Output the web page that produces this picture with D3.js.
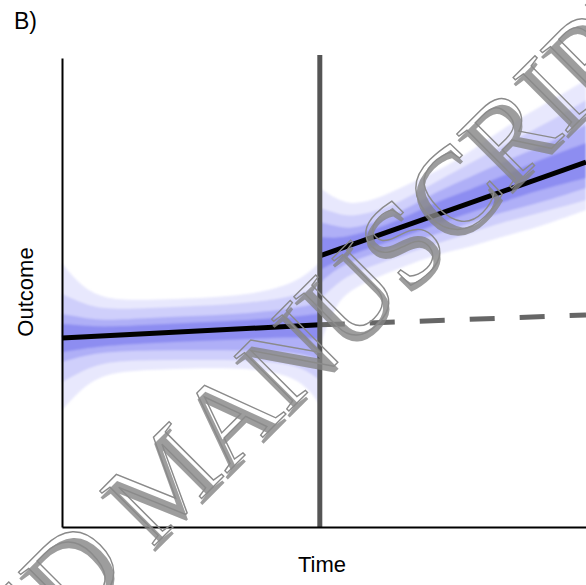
<!DOCTYPE html>
<meta charset="utf-8">
<title>Interrupted time series</title>
<style>

body {
  margin: 0px;
  background: #fff;
}

svg {
  display: block;
  font-family: "Liberation Sans", Arial, sans-serif;
}

.axis path {
  stroke: #000;
  stroke-width: 2px;
}

.watermark {
  font-family: "Liberation Serif", "Times New Roman", serif;
  font-size: 118px;
}

</style>

<script src="https://d3js.org/d3.v7.min.js"></script>

<body>
<script>

var width = 586, height = 585;

// time runs 0..100, intervention at 49.2
var intervention = 49.2;

// fitted lines (time, outcome)
var preLine = [[0, 4.03], [49.2, 4.31]];
var postLine = [[49.2, 5.78], [100, 7.78]];
var counterfactual = [[49.2, 4.31], [100, 4.52]];

// uncertainty bands, before the intervention
var timePre = [0, 2.5, 7.3, 16.8, 26.3, 35.9, 43.5, 47.3, 49.2];
var pre95hi = [5.63, 5.27, 4.84, 4.84, 4.88, 4.95, 5.16, 5.44, 5.65];
var pre95lo = [2.49, 2.81, 3.28, 3.35, 3.39, 3.39, 3.24, 2.92, 2.60];
var pre80hi = [4.97, 4.84, 4.63, 4.67, 4.71, 4.78, 4.90, 5.05, 5.16];
var pre80lo = [3.09, 3.24, 3.52, 3.56, 3.56, 3.56, 3.48, 3.30, 3.13];
var pre60hi = [4.54, 4.50, 4.39, 4.46, 4.50, 4.56, 4.65, 4.73, 4.80];
var pre60lo = [3.52, 3.60, 3.73, 3.77, 3.77, 3.77, 3.73, 3.65, 3.56];
var pre40hi = [4.33, 4.31, 4.26, 4.31, 4.37, 4.41, 4.48, 4.52, 4.56];
var pre40lo = [3.73, 3.77, 3.86, 3.92, 3.97, 4.01, 4.05, 4.03, 3.99];

// uncertainty bands, after the intervention
var timePost = [49.2, 52.1, 55.0, 59.7, 64.5, 72.1, 77.9, 83.6, 91.2, 100];
var post95hi = [7.23, 7.01, 6.87, 6.97, 7.23, 7.61, 8.00, 8.46, 8.96, 9.53];
var post95lo = [3.88, 4.73, 5.05, 5.31, 5.52, 5.84, 5.97, 6.18, 6.40, 6.76];
var post80hi = [6.80, 6.70, 6.61, 6.72, 6.93, 7.40, 7.76, 8.10, 8.53, 9.10];
var post80lo = [4.84, 5.16, 5.39, 5.59, 5.78, 6.06, 6.27, 6.48, 6.70, 6.97];
var post60hi = [6.50, 6.42, 6.35, 6.50, 6.70, 7.19, 7.46, 7.76, 8.10, 8.57];
var post60lo = [5.20, 5.48, 5.65, 5.84, 5.99, 6.27, 6.48, 6.70, 6.91, 7.23];
var post40hi = [6.18, 6.16, 6.20, 6.35, 6.55, 6.97, 7.19, 7.46, 7.83, 8.19];
var post40lo = [5.48, 5.65, 5.80, 5.99, 6.16, 6.48, 6.70, 6.91, 7.19, 7.44];

var bandColors = ["#e8e8fd", "#cfcffb", "#afaff7", "#8d8df1"];

var svg = d3.select("body").append("svg")
    .attr("width", width)
    .attr("height", height);

var x = d3.scaleLinear().domain([0, 100]).range([62, 586]);
var y = d3.scaleLinear().domain([0, 10]).range([527, 58]);

var defs = svg.append("defs");
defs.append("filter")
    .attr("id", "soft")
  .append("feGaussianBlur")
    .attr("stdDeviation", 0.9);

var bands = svg.append("g").attr("filter", "url(#soft)");

var area = d3.area()
    .x(function(d) { return x(d[0]); })
    .y0(function(d) { return y(d[1]); })
    .y1(function(d) { return y(d[2]); })
    .curve(d3.curveBasis);

function drawBands(time, levels) {
  levels.forEach(function(lv, i) {
    var pts = time.map(function(t, j) { return [t, lv[0][j], lv[1][j]]; });
    bands.append("path")
        .attr("d", area(pts))
        .attr("fill", bandColors[i]);
  });
}

drawBands(timePre, [[pre95lo, pre95hi], [pre80lo, pre80hi], [pre60lo, pre60hi], [pre40lo, pre40hi]]);
drawBands(timePost, [[post95lo, post95hi], [post80lo, post80hi], [post60lo, post60hi], [post40lo, post40hi]]);

var line = d3.line()
    .x(function(d) { return x(d[0]); })
    .y(function(d) { return y(d[1]); });

svg.append("path")
    .attr("d", line(counterfactual))
    .attr("fill", "none")
    .attr("stroke", "#666")
    .attr("stroke-width", 5)
    .attr("stroke-dasharray", "25,25");

[preLine, postLine].forEach(function(seg) {
  svg.append("path")
      .attr("d", line(seg))
      .attr("fill", "none")
      .attr("stroke", "#000")
      .attr("stroke-width", 5);
});

// intervention marker
svg.append("line")
    .attr("x1", x(intervention)).attr("x2", x(intervention))
    .attr("y1", 55).attr("y2", y(0))
    .attr("stroke", "#555")
    .attr("stroke-width", 5);

// bare axes, no ticks
svg.append("g")
    .attr("class", "axis")
    .attr("transform", "translate(62,0)")
    .call(d3.axisLeft(y).tickValues([]).tickSizeOuter(0));

svg.append("g")
    .attr("class", "axis")
    .attr("transform", "translate(0," + y(0) + ")")
    .call(d3.axisBottom(x).tickValues([]).tickSizeOuter(0));

svg.append("text")
    .attr("x", 322)
    .attr("y", 572)
    .attr("text-anchor", "middle")
    .style("font-size", "22px")
    .text("Time");

svg.append("text")
    .attr("transform", "translate(33,292) rotate(-90)")
    .attr("text-anchor", "middle")
    .style("font-size", "22px")
    .text("Outcome");

svg.append("text")
    .attr("x", 14)
    .attr("y", 29)
    .style("font-size", "23px")
    .text("B)");

// watermark
var wm = svg.append("g")
    .attr("class", "watermark")
    .attr("transform", "translate(-300,1000) rotate(-45)");

wm.append("text")
    .attr("x", -4).attr("y", 5)
    .attr("fill", "#858585")
    .attr("fill-opacity", 0.8)
    .text("ACCEPTED MANUSCRIPT");

wm.append("text")
    .attr("fill", "none")
    .attr("stroke", "#8a8a8a")
    .attr("stroke-width", 1.4)
    .text("ACCEPTED MANUSCRIPT");

</script>
